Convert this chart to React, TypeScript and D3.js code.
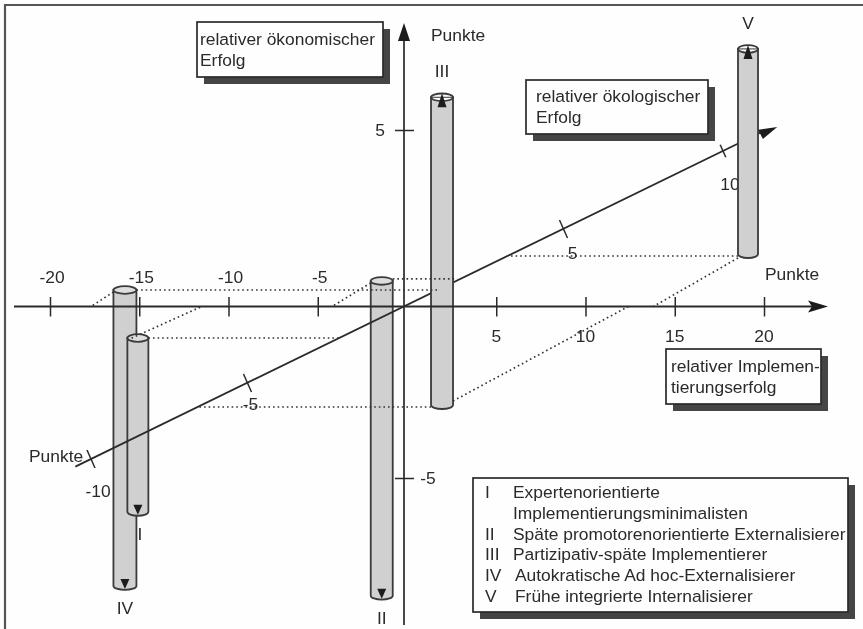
import React, { useEffect, useRef } from 'react';
import * as d3 from 'd3';

// tick values of the three axes
const implementationTicks = [-20, -15, -10, -5, 5, 10, 15, 20];
const economicTicks = [5, -5];
const ecologicalTicks = [-10, -5, 5, 10];

// the five types (points)
const typeIds = ['I', 'II', 'III', 'IV', 'V'];
const columnPos = [-11.5, -4.4, 13.5, -17.75, 13.26];
const implementation = [-11.5, -4.2, 12.4, -17.7, 13.8];
const ecological = [-2.04, 1.67, -6.58, 1.09, 3.27];
const economic = [-5.05, -9.1, 8.9, -8.56, 5.95];

const legendLabels = [
  ['Expertenorientierte', 'Implementierungsminimalisten'],
  ['Späte promotorenorientierte Externalisierer'],
  ['Partizipativ-späte Implementierer'],
  ['Autokratische Ad hoc-Externalisierer'],
  ['Frühe integrierte Internalisierer'],
];
const econBoxLines = ['relativer ökonomischer', 'Erfolg'];
const ecoBoxLines = ['relativer ökologischer', 'Erfolg'];
const implBoxLines = ['relativer Implemen-', 'tierungserfolg'];

const FONT = '"Liberation Sans", Arial, sans-serif';
const INK = '#2a2a2a';
const TEXT = '#2a2a2a';
const FONT_SIZE = 17.4;

const App = () => {
  const svgRef = useRef<SVGSVGElement>(null);

  useEffect(() => {
    const root = d3.select(svgRef.current);
    root.selectAll('*').remove();

    root.append('defs').append('filter').attr('id', 'scan')
      .append('feGaussianBlur').attr('stdDeviation', 0.55);

    const svg = root.append('g').attr('filter', 'url(#scan)')
      .attr('font-family', FONT).attr('font-size', FONT_SIZE).attr('fill', TEXT);

    const axisY = 306.5;
    const axisX = 404;

    const x = d3.scaleLinear().domain([-20, 20]).range([50, 764]);
    const y = d3.scaleLinear().domain([-5, 5]).range([478, 130]);
    // ecological axis runs diagonally through the origin
    const zx = d3.scaleLinear().domain([-10, 0, 10]).range([91, 404, 723]);
    const zy = d3.scaleLinear().domain([-10, 0, 10]).range([459, 307, 151]);
    const height = (v: number) => y(v) - y(0);
    const columnX = (i: number) => x(columnPos[i]) + zx(ecological[i]) - zx(0);
    const halfWidth = [10.5, 11, 11, 11.5, 10];

    // background + frame
    svg.append('rect').attr('width', 863).attr('height', 629).attr('fill', '#fefefe');
    svg.append('path').attr('d', 'M5,629V5H863').attr('fill', 'none')
      .attr('stroke', '#555').attr('stroke-width', 2.2);

    // economic axis
    const yAxis = svg.append('g').attr('transform', `translate(${axisX},0)`)
      .call(d3.axisLeft(y).tickValues(economicTicks).tickSize(9).tickFormat(() => ''));
    yAxis.select('.domain').remove();
    yAxis.selectAll('.tick line').attr('x2', 10).attr('x1', -9).attr('stroke', INK).attr('stroke-width', 1.5);
    svg.append('line').attr('x1', axisX).attr('x2', axisX).attr('y1', 36).attr('y2', 625)
      .attr('stroke', INK).attr('stroke-width', 1.7);
    svg.append('path').attr('d', `M${axisX},23L${axisX + 6},41L${axisX - 6},41Z`).attr('fill', '#1c1c1c');
    economicTicks.forEach(v => {
      svg.append('text').attr('x', v > 0 ? axisX - 24 : axisX + 24).attr('y', y(v) + 6)
        .attr('text-anchor', 'middle').text(v);
    });

    const drawColumn = (i: number) => {
      const z = ecological[i];
      const cx = columnX(i);
      const hw = halfWidth[i];
      const up = economic[i] > 0;
      const top = up ? zy(z) + height(economic[i]) : zy(z);
      const bottom = up ? zy(z) : zy(z) + height(economic[i]);
      const g = svg.append('g').attr('stroke', '#3a3a3a').attr('stroke-width', 1.8);
      g.append('path')
        .attr('d', `M${cx - hw},${top}V${bottom - 2}A${hw},4 0 0 0 ${cx + hw},${bottom - 2}V${top}Z`)
        .attr('fill', '#d0d0d0');
      g.append('ellipse').attr('cx', cx).attr('cy', top).attr('rx', hw).attr('ry', 3.8)
        .attr('fill', up ? '#fafafa' : '#dedede');
      if (up) {
        g.append('line').attr('x1', cx - hw).attr('x2', cx + hw).attr('y1', top).attr('y2', top)
          .attr('stroke-width', 1);
      }
      const tip = up
        ? `M${cx},${top - 4}L${cx + 4.5},${top + 10}L${cx - 4.5},${top + 10}Z`
        : `M${cx},${bottom + 1}L${cx + 4.5},${bottom - 9}L${cx - 4.5},${bottom - 9}Z`;
      g.append('path').attr('d', tip).attr('fill', '#1c1c1c').attr('stroke', 'none');
      svg.append('text').attr('x', cx + (i === 0 ? 2 : 0)).attr('y', up ? top - 20 : bottom + 26)
        .attr('text-anchor', 'middle').text(typeIds[i]);
    };

    // II, IV, I lie behind the diagonal, III and V in front of it
    [1, 3, 0].forEach(drawColumn);

    // ecological axis
    const tailZ = -10.5;
    const headZ = 11.2;
    svg.append('path')
      .attr('d', d3.line()([[zx(tailZ), zy(tailZ)], [zx(headZ), zy(headZ)]]))
      .attr('stroke', INK).attr('stroke-width', 1.8).attr('fill', 'none');
    svg.append('path')
      .attr('d', `M${zx(11.7)},${zy(11.7) + 2.5}L${zx(11.1)},${zy(11.1) - 4}L${zx(11.25)},${zy(11.25) + 7.5}Z`)
      .attr('fill', '#1c1c1c');
    ecologicalTicks.forEach(v => {
      const r = v === 10 ? 0.7 : 1;
      svg.append('line')
        .attr('x1', zx(v) - 4 * r).attr('y1', zy(v) - 9 * r)
        .attr('x2', zx(v) + 4 * r).attr('y2', zy(v) + 9 * r)
        .attr('stroke', INK).attr('stroke-width', 1.5);
    });
    const zLabelShift: Record<number, [number, number]> = {
      [-10]: [7, 38], [-5]: [3, 27], [5]: [9, 30], [10]: [7, 39],
    };
    ecologicalTicks.forEach(v => {
      svg.append('text').attr('x', zx(v) + zLabelShift[v][0]).attr('y', zy(v) + zLabelShift[v][1])
        .attr('text-anchor', 'middle').text(v);
    });

    [2, 4].forEach(drawColumn);

    // dotted guides sit on top of the other columns
    const dots = svg.append('g').attr('stroke', '#333').attr('stroke-width', 1.7)
      .attr('stroke-dasharray', '1.6 3').attr('fill', 'none');
    typeIds.forEach((_, i) => {
      const z = ecological[i];
      const cx = columnX(i);
      const hw = halfWidth[i];
      const cy = zy(z);
      const toRight = zx(z) > cx;
      dots.append('line').attr('x1', toRight ? cx + hw : cx - hw).attr('y1', cy - (i === 1 ? 2 : 0))
        .attr('x2', zx(z)).attr('y2', cy - (i === 1 ? 2 : 0));
      const footRight = i === 2;
      dots.append('line')
        .attr('x1', footRight ? cx + hw : cx - hw).attr('y1', footRight ? cy - 6 : cy + 2)
        .attr('x2', x(implementation[i])).attr('y2', axisY);
    });

    // implementation axis
    const xAxis = svg.append('g').attr('transform', `translate(0,${axisY})`)
      .call(d3.axisBottom(x).tickValues(implementationTicks).tickSize(10).tickFormat(() => ''));
    xAxis.select('.domain').remove();
    xAxis.selectAll('.tick line').attr('y1', -9.5).attr('stroke', INK).attr('stroke-width', 1.5);
    svg.append('line').attr('x1', 14).attr('x2', 812).attr('y1', axisY).attr('y2', axisY)
      .attr('stroke', INK).attr('stroke-width', 1.8);
    svg.append('path').attr('d', `M828,${axisY}L808,${axisY - 6}L812,${axisY}L808,${axisY + 6}Z`).attr('fill', '#1c1c1c');
    implementationTicks.forEach(v => {
      svg.append('text').attr('x', x(v) + (v < 0 ? 2 : 0)).attr('y', v < 0 ? 283 : 342)
        .attr('text-anchor', 'middle').text(v);
    });

    // axis unit labels
    const unitLabels: [number, number][] = [[431, 41], [765, 280], [29, 462]];
    unitLabels.forEach(([px, py]) => {
      svg.append('text').attr('x', px).attr('y', py).text('Punkte');
    });

    const drawBox = (bx: number, by: number, bw: number, bh: number) => {
      svg.append('rect').attr('x', bx + 7).attr('y', by + 7).attr('width', bw).attr('height', bh).attr('fill', '#444');
      svg.append('rect').attr('x', bx).attr('y', by).attr('width', bw).attr('height', bh)
        .attr('fill', '#fefefe').attr('stroke', '#2a2a2a').attr('stroke-width', 1.7);
    };
    const drawLines = (lines: string[], lx: number, ly: number) => {
      lines.forEach((t, k) => {
        svg.append('text').attr('x', lx).attr('y', ly + k * 21).text(t);
      });
    };

    drawBox(197, 22, 186, 55);
    drawLines(econBoxLines, 200, 45);
    drawBox(526, 80, 182, 54);
    drawLines(ecoBoxLines, 536, 102);
    drawBox(666, 349, 155, 55);
    drawLines(implBoxLines, 671, 372);

    // legend
    drawBox(473, 478, 375, 134);
    let row = 0;
    typeIds.forEach((id, i) => {
      svg.append('text').attr('x', 485).attr('y', 498 + row * 20.8).text(id);
      legendLabels[i].forEach(label => {
        svg.append('text').attr('x', i >= 3 ? 515 : 513).attr('y', 498 + row * 20.8).text(label);
        row += 1;
      });
    });
  }, []);

  return (
    <svg
      ref={svgRef}
      width={863}
      height={629}
      style={{ position: 'absolute', left: 0, top: 0, display: 'block' }}
    />
  );
};

export default App;
